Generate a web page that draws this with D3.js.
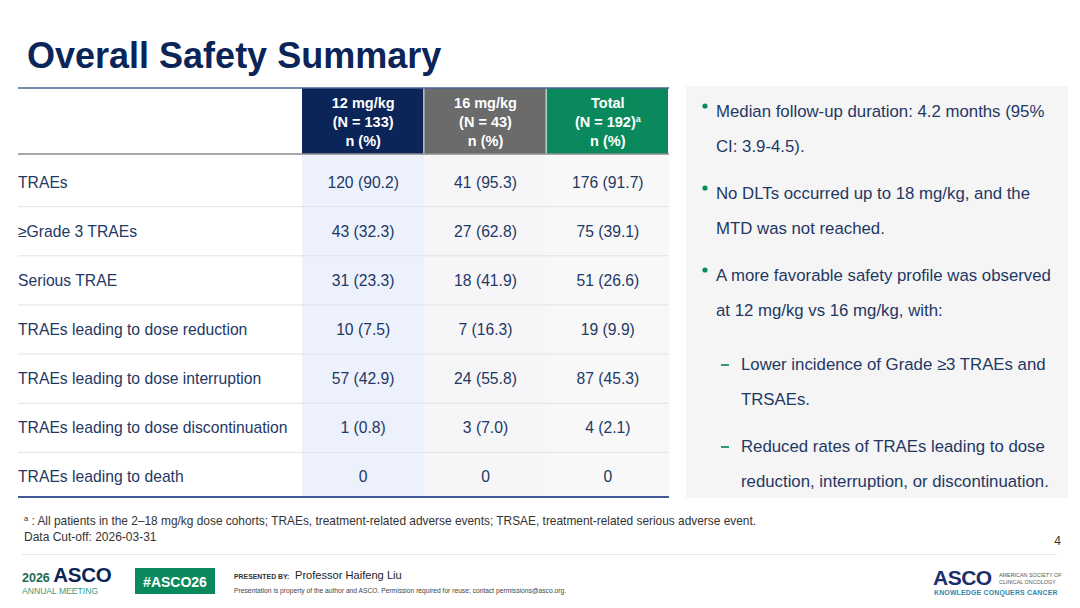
<!DOCTYPE html>
<html lang="en">
<head>
<meta charset="UTF-8">
<title>Overall Safety Summary</title>
<script src="https://cdnjs.cloudflare.com/ajax/libs/d3/7.8.5/d3.min.js"></script>
<style>
  html, body { margin: 0; padding: 0; background: #fff; }
  svg { display: block; font-family: "Liberation Sans", Arial, sans-serif; }
</style>
</head>
<body>
<svg id="slide" width="1080" height="608"></svg>
<script>
// table data
var rowLabels = [
  "TRAEs",
  "\u2265Grade 3 TRAEs",
  "Serious TRAE",
  "TRAEs leading to dose reduction",
  "TRAEs leading to dose interruption",
  "TRAEs leading to dose discontinuation",
  "TRAEs leading to death"
];
var doseGroups = ["12 mg/kg", "16 mg/kg", "Total"];
var groupN = [133, 43, 192];
var n12 = [120, 43, 31, 10, 57, 1, 0];
var pct12 = [90.2, 32.3, 23.3, 7.5, 42.9, 0.8, 0];
var n16 = [41, 27, 18, 7, 24, 3, 0];
var pct16 = [95.3, 62.8, 41.9, 16.3, 55.8, 7.0, 0];
var nTotal = [176, 75, 51, 19, 87, 4, 0];
var pctTotal = [91.7, 39.1, 26.6, 9.9, 45.3, 2.1, 0];

// right hand notes
var notes = [
  { kind: "bullet", lines: ["Median follow-up duration: 4.2 months (95%", "CI: 3.9-4.5)."] },
  { kind: "bullet", lines: ["No DLTs occurred up to 18 mg/kg, and the", "MTD was not reached."] },
  { kind: "bullet", lines: ["A more favorable safety profile was observed", "at 12 mg/kg vs 16 mg/kg, with:"] },
  { kind: "dash", lines: ["Lower incidence of Grade \u22653 TRAEs and", "TRSAEs."] },
  { kind: "dash", lines: ["Reduced rates of TRAEs leading to dose", "reduction, interruption, or discontinuation."] }
];

var navy = "#0b2559", textBlue = "#1f3864", green = "#0a8a5c";
var headFill = ["#0b2559", "#6b6b6b", "#0a8a5c"];
var colFill = ["#ecf1fc", "#f6f6f8", "#f8f8f9"];

var svg = d3.select("#slide");

svg.append("text")
  .attr("x", 27).attr("y", 68)
  .attr("font-size", 36).attr("font-weight", "bold")
  .attr("fill", navy)
  .text("Overall Safety Summary");

// scales for the table
var tableLeft = 18, tableRight = 669;
var x = d3.scaleBand().domain(doseGroups).range([302, tableRight]);
var y = d3.scaleBand().domain(d3.range(rowLabels.length)).range([155, 499]);
var headTop = 88, headBottom = 154;

var fmt = function(n, p) { return n === 0 ? "0" : n + " (" + p.toFixed(1) + ")"; };
var cells = [
  n12.map(function(n, i) { return fmt(n, pct12[i]); }),
  n16.map(function(n, i) { return fmt(n, pct16[i]); }),
  nTotal.map(function(n, i) { return fmt(n, pctTotal[i]); })
];

// column shading
svg.append("g").selectAll("rect")
  .data(doseGroups)
  .join("rect")
    .attr("x", function(d) { return x(d); })
    .attr("y", headBottom)
    .attr("width", x.bandwidth())
    .attr("height", 497 - headBottom)
    .attr("fill", function(d, i) { return colFill[i]; });

// header cells
var head = svg.append("g").selectAll("g")
  .data(doseGroups)
  .join("g");
head.append("rect")
  .attr("x", function(d) { return x(d); })
  .attr("y", headTop)
  .attr("width", x.bandwidth() - 1)
  .attr("height", headBottom - headTop)
  .attr("fill", function(d, i) { return headFill[i]; });
head.each(function(d, i) {
  var cx = x(d) + x.bandwidth() / 2;
  var t = d3.select(this).append("text")
    .attr("x", cx)
    .attr("text-anchor", "middle")
    .attr("font-size", 14.5).attr("font-weight", "bold")
    .attr("fill", "#fff");
  t.append("tspan").attr("x", cx).attr("y", 108).text(d);
  var l2 = t.append("tspan").attr("x", cx).attr("y", 127)
    .text("(N = " + groupN[i] + ")");
  if (d === "Total") l2.append("tspan").attr("font-size", 9).attr("dy", -5).text("a");
  t.append("tspan").attr("x", cx).attr("y", 146).text("n (%)");
});

// rules
svg.append("line")
  .attr("x1", tableLeft).attr("x2", tableRight)
  .attr("y1", headTop).attr("y2", headTop)
  .attr("stroke", "#4d6393").attr("stroke-width", 1.5);
svg.append("line")
  .attr("x1", tableLeft).attr("x2", tableRight)
  .attr("y1", headBottom).attr("y2", headBottom)
  .attr("stroke", "#8c8c8c").attr("stroke-width", 1.5);
svg.append("g").selectAll("line")
  .data(d3.range(1, rowLabels.length))
  .join("line")
    .attr("x1", tableLeft).attr("x2", tableRight)
    .attr("y1", function(d) { return y(d) + 2.5; })
    .attr("y2", function(d) { return y(d) + 2.5; })
    .attr("stroke", "#e2e2e6").attr("stroke-width", 1);
svg.append("line")
  .attr("x1", tableLeft).attr("x2", tableRight)
  .attr("y1", 497).attr("y2", 497)
  .attr("stroke", "#3f5b95").attr("stroke-width", 2);

// row labels
svg.append("g").selectAll("text")
  .data(rowLabels)
  .join("text")
    .attr("x", tableLeft)
    .attr("y", function(d, i) { return y(i) + y.bandwidth() / 2 + 8; })
    .attr("font-size", 15.7)
    .attr("fill", textBlue)
    .text(function(d) { return d; });

// values
svg.append("g").selectAll("g")
  .data(cells)
  .join("g")
  .each(function(col, c) {
    d3.select(this).selectAll("text")
      .data(col)
      .join("text")
        .attr("x", x(doseGroups[c]) + x.bandwidth() / 2)
        .attr("y", function(d, i) { return y(i) + y.bandwidth() / 2 + 8; })
        .attr("text-anchor", "middle")
        .attr("font-size", 15.7)
        .attr("fill", textBlue)
        .text(function(d) { return d; });
  });

// right panel
svg.append("rect")
  .attr("x", 686).attr("y", 86).attr("width", 382).attr("height", 412)
  .attr("fill", "#f5f5f5");

var lineGap = 35, itemGap = 47, yy = 117;
var notesG = svg.append("g");
notes.forEach(function(note, k) {
  if (k === 3) yy += 7;
  var tx = note.kind === "bullet" ? 716 : 741;
  if (note.kind === "bullet") {
    notesG.append("circle").attr("cx", 705).attr("cy", yy - 11).attr("r", 2.6).attr("fill", green);
  } else {
    notesG.append("line").attr("x1", 721).attr("x2", 729)
      .attr("y1", yy - 5).attr("y2", yy - 5)
      .attr("stroke", "#2e9a6e").attr("stroke-width", 2);
  }
  note.lines.forEach(function(line, j) {
    notesG.append("text")
      .attr("x", tx).attr("y", yy + j * lineGap)
      .attr("font-size", 16.8)
      .attr("fill", textBlue)
      .text(line);
  });
  yy += (note.lines.length - 1) * lineGap + itemGap;
});

// footnote
var fn = svg.append("text")
  .attr("x", 24).attr("y", 525)
  .attr("font-size", 11.9).attr("fill", "#333");
fn.append("tspan").attr("font-size", 7.5).attr("dy", -4).text("a");
fn.append("tspan").attr("dy", 4).text(" : All patients in the 2\u201318 mg/kg dose cohorts; TRAEs, treatment-related adverse events; TRSAE, treatment-related serious adverse event.");
svg.append("text")
  .attr("x", 24).attr("y", 541)
  .attr("font-size", 12).attr("fill", "#333")
  .text("Data Cut-off: 2026-03-31");
svg.append("text")
  .attr("x", 1061).attr("y", 545)
  .attr("text-anchor", "end")
  .attr("font-size", 12).attr("fill", "#333")
  .text("4");

svg.append("line")
  .attr("x1", 22).attr("x2", 1057)
  .attr("y1", 554.5).attr("y2", 554.5)
  .attr("stroke", "#e6e6e6").attr("stroke-width", 1);

// footer, left
var logo = svg.append("text").attr("x", 22).attr("y", 581.5);
logo.append("tspan").attr("font-size", 12.5).attr("font-weight", "bold").attr("fill", "#1d6b50").text("2026 ");
logo.append("tspan").attr("font-size", 20.5).attr("font-weight", "bold").attr("fill", navy).attr("letter-spacing", -0.3).text("ASCO");
svg.append("text")
  .attr("x", 22).attr("y", 594)
  .attr("font-size", 8.6).attr("fill", "#3a9a78")
  .text("ANNUAL MEETING");

svg.append("rect")
  .attr("x", 135).attr("y", 568).attr("width", 80).attr("height", 26)
  .attr("fill", green);
svg.append("text")
  .attr("x", 175).attr("y", 586.5)
  .attr("text-anchor", "middle")
  .attr("font-size", 14).attr("font-weight", "bold").attr("fill", "#fff")
  .text("#ASCO26");

svg.append("text")
  .attr("x", 234).attr("y", 579)
  .attr("font-size", 6.9).attr("font-weight", "bold").attr("fill", "#333")
  .text("PRESENTED BY:");
svg.append("text")
  .attr("x", 295).attr("y", 579)
  .attr("font-size", 11.1).attr("fill", "#222")
  .text("Professor Haifeng Liu");
svg.append("text")
  .attr("x", 234).attr("y", 593)
  .attr("font-size", 6.7).attr("fill", "#444")
  .text("Presentation is property of the author and ASCO. Permission required for reuse; contact permissions@asco.org.");

// footer, right
svg.append("text")
  .attr("x", 933).attr("y", 585)
  .attr("font-size", 21).attr("font-weight", "bold").attr("fill", "#1c2f6b")
  .attr("letter-spacing", -0.5)
  .text("ASCO");
svg.append("text")
  .attr("x", 999).attr("y", 577)
  .attr("font-size", 5.4).attr("fill", "#555")
  .text("AMERICAN SOCIETY OF");
svg.append("text")
  .attr("x", 999).attr("y", 583.5)
  .attr("font-size", 5.4).attr("fill", "#555")
  .text("CLINICAL ONCOLOGY");
svg.append("text")
  .attr("x", 934).attr("y", 595)
  .attr("font-size", 6.9).attr("font-weight", "bold").attr("fill", "#2f86a8")
  .attr("letter-spacing", 0.2)
  .text("KNOWLEDGE CONQUERS CANCER");
</script>
</body>
</html>
